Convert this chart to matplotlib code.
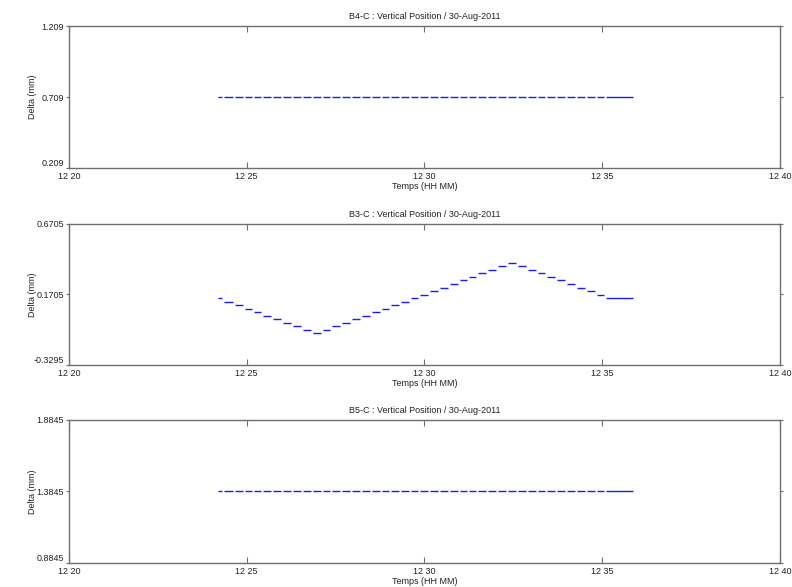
import matplotlib
matplotlib.use("Agg")
import matplotlib.pyplot as plt
import numpy as np

plt.rcParams["font.family"] = ["Liberation Sans", "DejaVu Sans"]

# start of each reading, minutes after 12:00
t_start = [24.19, 24.36, 24.67, 24.95, 25.20, 25.46, 25.74, 26.02, 26.30, 26.58,
           26.86, 27.14, 27.40, 27.68, 27.96, 28.24, 28.52, 28.80, 29.06, 29.34,
           29.62, 29.87, 30.15, 30.44, 30.72, 31.00, 31.25, 31.50, 31.79, 32.07,
           32.35, 32.63, 32.91, 33.19, 33.45, 33.73, 34.01, 34.29, 34.57, 34.85,
           35.11]
t_end_last = 35.87

b4c = [0.709, 0.709, 0.709, 0.709, 0.709, 0.709, 0.709, 0.709, 0.709, 0.709,
       0.709, 0.709, 0.709, 0.709, 0.709, 0.709, 0.709, 0.709, 0.709, 0.709,
       0.709, 0.709, 0.709, 0.709, 0.709, 0.709, 0.709, 0.709, 0.709, 0.709,
       0.709, 0.709, 0.709, 0.709, 0.709, 0.709, 0.709, 0.709, 0.709, 0.709,
       0.709]
b3c = [0.145, 0.12, 0.095, 0.07, 0.045, 0.02, -0.005, -0.03, -0.055, -0.08,
       -0.105, -0.08, -0.055, -0.03, -0.005, 0.02, 0.045, 0.07, 0.095, 0.12,
       0.145, 0.17, 0.195, 0.22, 0.245, 0.27, 0.295, 0.32, 0.345, 0.37,
       0.395, 0.37, 0.345, 0.32, 0.295, 0.27, 0.245, 0.22, 0.195, 0.17,
       0.145]
b5c = [1.3845, 1.3845, 1.3845, 1.3845, 1.3845, 1.3845, 1.3845, 1.3845, 1.3845, 1.3845,
       1.3845, 1.3845, 1.3845, 1.3845, 1.3845, 1.3845, 1.3845, 1.3845, 1.3845, 1.3845,
       1.3845, 1.3845, 1.3845, 1.3845, 1.3845, 1.3845, 1.3845, 1.3845, 1.3845, 1.3845,
       1.3845, 1.3845, 1.3845, 1.3845, 1.3845, 1.3845, 1.3845, 1.3845, 1.3845, 1.3845,
       1.3845]

sensors = ["B4-C", "B3-C", "B5-C"]
series = [b4c, b3c, b5c]
yticks = [[0.209, 0.709, 1.209], [-0.3295, 0.1705, 0.6705], [0.8845, 1.3845, 1.8845]]
ytick_labels = [["0.209", "0.709", "1.209"], ["-0.3295", "0.1705", "0.6705"],
                ["0.8845", "1.3845", "1.8845"]]
xticks = [20, 25, 30, 35, 40]
xtick_labels = ["12 20", "12 25", "12 30", "12 35", "12 40"]

# axes boxes in figure fractions (left, bottom, width, height)
boxes = [[0.0871, 0.7138, 0.8977, 0.2419],
         [0.0871, 0.3782, 0.8977, 0.2402],
         [0.0871, 0.0409, 0.8977, 0.2436]]

gray = "#6e6e6e"
txt = "#222222"
fig = plt.figure(figsize=(7.92, 5.87), dpi=100)

t_end = list(np.array(t_start[1:]) - 0.06) + [t_end_last]

for name, vals, yt, ytl, box in zip(sensors, series, yticks, ytick_labels, boxes):
    ax = fig.add_axes(box)
    ax.hlines(vals, t_start, t_end, colors="#1a1aff", linewidth=1.0)
    ax.set_xlim(20, 40)
    ax.set_ylim(yt[0], yt[2])
    ax.set_xticks(xticks)
    ax.set_xticklabels(xtick_labels)
    ax.set_yticks(yt)
    ax.set_yticklabels(ytl)
    for s in ax.spines.values():
        s.set_color(gray)
        s.set_linewidth(1.0)
    ax.tick_params(axis="x", direction="in", length=4.5, width=0.8, color=gray,
                   top=True, labelsize=6.5, pad=2.8, labelcolor=txt)
    ax.tick_params(axis="y", direction="out", length=2.5, width=0.8, color=gray,
                   right=True, labelsize=6.5, pad=1, labelcolor=txt)
    # lift the lowest y label a touch so it sits clear of the first x label
    ax.get_yticklabels()[0].set_verticalalignment("bottom")
    ax.set_title(f"{name} : Vertical Position / 30-Aug-2011", fontsize=6.5,
                 pad=5, color=txt)
    ax.set_xlabel("Temps (HH MM)", fontsize=6.5, labelpad=0.5, color=txt)
    ax.set_ylabel("Delta (mm)", fontsize=6.5, color=txt)
    ax.yaxis.set_label_coords(-0.045, 0.5)

fig.savefig("out.png", dpi=100)
